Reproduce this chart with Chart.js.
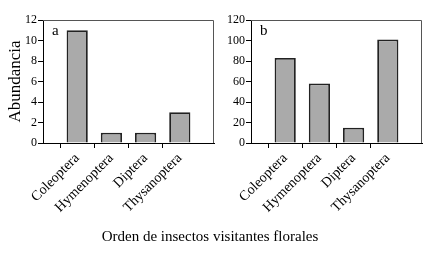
<!DOCTYPE html>
<html>
<head>
<meta charset="utf-8">
<script src="https://cdn.jsdelivr.net/npm/chart.js@4/dist/chart.umd.min.js"></script>
<style>
  html, body { margin: 0; padding: 0; background: #fff; }
  #wrap { position: relative; width: 426px; height: 253px; overflow: hidden; }
  canvas { position: absolute; top: 0; }
  #xt { position: absolute; left: 0; width: 420px; top: 228px; text-align: center;
        font-family: "Liberation Serif", "Times New Roman", serif; font-size: 15px; color: #000; }
</style>
</head>
<body>
<div id="wrap">
  <canvas id="ca" width="218" height="253" style="left:0"></canvas>
  <canvas id="cb" width="208" height="253" style="left:218px"></canvas>
  <div id="xt">Orden de insectos visitantes florales</div>
</div>
<script>
const categories = ['Coleoptera', 'Hymenoptera', 'Diptera', 'Thysanoptera'];
const valuesA = [11, 1, 1, 3];
const valuesB = [83, 58, 15, 101];
const yTitle = 'Abundancia';
const panelLetters = ['a', 'b'];

const FONT = '"Liberation Serif", "Times New Roman", serif';
const labels = [''].concat(categories, ['']);

const boxPlugin = {
  id: 'box',
  afterDraw(chart, args, opts) {
    const { ctx, chartArea: ca } = chart;
    ctx.save();
    ctx.strokeStyle = '#555';
    ctx.lineWidth = 1;
    ctx.beginPath();
    ctx.moveTo(ca.left, ca.top + 0.5);
    ctx.lineTo(ca.right - 0.5, ca.top + 0.5);
    ctx.lineTo(ca.right - 0.5, ca.bottom);
    ctx.stroke();
    ctx.fillStyle = '#000';
    ctx.font = '15px ' + FONT;
    ctx.textBaseline = 'top';
    ctx.fillText(opts.letter, ca.left + 9, ca.top + 4);
    ctx.restore();
  }
};

function makeChart(id, values, max, step, yWidth, showTitle, letter) {
  const data = [null].concat(values, [null]);
  return new Chart(document.getElementById(id), {
    type: 'bar',
    data: {
      labels: labels,
      datasets: [{
        data: data,
        backgroundColor: '#aaaaaa',
        borderColor: '#222',
        borderWidth: 1.8,
        barPercentage: 0.62,
        categoryPercentage: 1
      }]
    },
    options: {
      responsive: false,
      animation: false,
      layout: { padding: { left: 0, right: 4, top: 20, bottom: 0 } },
      plugins: { legend: { display: false }, tooltip: { enabled: false }, box: { letter: letter } },
      scales: {
        x: {
          offset: false,
          afterFit(s) { s.height = 110; s.paddingLeft = 0; s.paddingRight = 0; },
          border: { display: true, color: '#000', width: 1 },
          grid: {
            drawOnChartArea: false, drawTicks: true, tickLength: 5,
            tickColor: (c) => (c.index === 0 || c.index === labels.length - 1) ? 'rgba(0,0,0,0)' : '#000'
          },
          ticks: {
            autoSkip: false, minRotation: 45, maxRotation: 45, padding: 2,
            color: '#000', font: { family: FONT, size: 14 }
          }
        },
        y: {
          min: 0, max: max,
          afterFit(s) { s.width = yWidth; s.paddingTop = 0; s.paddingBottom = 0; },
          border: { display: true, color: '#000', width: 1 },
          grid: { drawOnChartArea: false, drawTicks: true, tickLength: 5, tickColor: '#000' },
          ticks: { stepSize: step, padding: 1, color: '#000', font: { family: FONT, size: 12 } },
          title: {
            display: showTitle, text: yTitle, color: '#000',
            font: { family: FONT, size: 17 }, padding: { top: 5, bottom: 0 }
          }
        }
      }
    },
    plugins: [boxPlugin]
  });
}

makeChart('ca', valuesA, 12, 2, 43, true, panelLetters[0]);
makeChart('cb', valuesB, 120, 20, 33, false, panelLetters[1]);
</script>
</body>
</html>
